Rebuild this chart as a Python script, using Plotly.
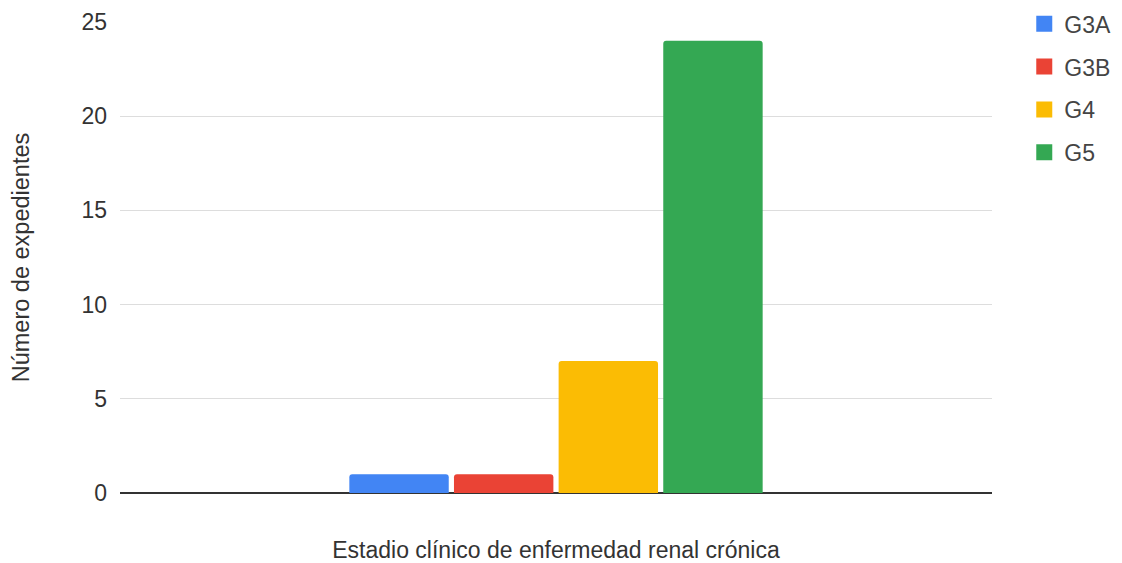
import plotly.graph_objects as go

category = [""]
series_names = ["G3A", "G3B", "G4", "G5"]
series_values = [1, 1, 7, 24]
series_colors = ["#4285F4", "#EA4335", "#FBBC04", "#34A853"]
y_ticks = [0, 5, 10, 15, 20, 25]

fig = go.Figure()
for name, val, col in zip(series_names, series_values, series_colors):
    fig.add_trace(go.Bar(
        x=category, y=[val], name=name, legendgroup=name, showlegend=False,
        marker=dict(color=col, line=dict(width=0), cornerradius=3),
    ))
# legend entries (square swatches)
for name, col in zip(series_names, series_colors):
    fig.add_trace(go.Scatter(
        x=[None], y=[None], mode="markers", name=name, legendgroup=name,
        marker=dict(symbol="square", size=22, color=col),
        hoverinfo="skip",
    ))

font_family = "Arial, Liberation Sans, sans-serif"
fig.update_layout(
    width=1114, height=555,
    margin=dict(l=112, r=130, t=14, b=70, autoexpand=False),
    paper_bgcolor="white", plot_bgcolor="white",
    barmode="group", bargap=0.52, bargroupgap=0.05,
    font=dict(family=font_family, size=23, color="#444444"),
    showlegend=True,
    legend=dict(
        x=1.037, y=1.042, xanchor="left", yanchor="top",
        traceorder="grouped", tracegroupgap=10,
        font=dict(size=23, color="#444444"),
        bgcolor="rgba(0,0,0,0)",
    ),
    xaxis=dict(
        showticklabels=False, showgrid=False, zeroline=False,
        title=dict(text="Estadio clínico de enfermedad renal crónica",
                   standoff=49, font=dict(size=23, color="#333333")),
    ),
    yaxis=dict(
        range=[0, 25], tickvals=y_ticks, showgrid=True,
        gridcolor="#dddddd", gridwidth=1,
        zeroline=True, zerolinecolor="#333333", zerolinewidth=1.5,
        ticklabelstandoff=12, tickfont=dict(size=23, color="#333333"),
        title=dict(text="Número de expedientes", standoff=49,
                   font=dict(size=23.5, color="#333333")),
    ),
)

fig.write_html("out.html")
